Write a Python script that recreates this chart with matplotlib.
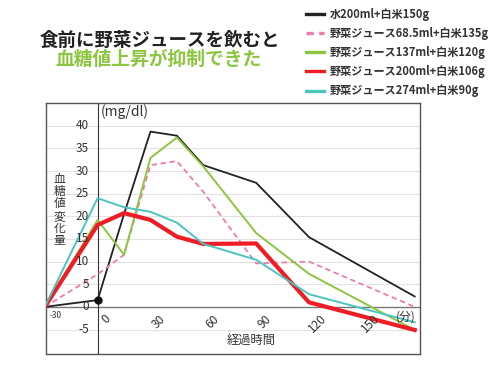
import matplotlib
matplotlib.use('Agg')
import matplotlib.pyplot as plt
from matplotlib.lines import Line2D

plt.rcParams['font.family'] = ['Noto Sans CJK JP', 'DejaVu Sans']

# time points (min) and blood glucose change (mg/dl)
minutes = [-30, 0, 15, 30, 45, 60, 90, 120, 180]
water = [0, 1.5, 20.5, 38.7, 37.8, 31.3, 27.4, 15.4, 2.3]
juice_68 = [0, 7.2, 11.5, 31.3, 32.2, 25.4, 9.6, 10.0, 0]
juice_137 = [0, 19.2, 11.5, 32.9, 37.4, 31.0, 16.3, 7.3, -5.1]
juice_200 = [0, 18.1, 20.7, 19.2, 15.5, 13.9, 14.0, 1.0, -5.1]
juice_274 = [0, 24.0, 22.0, 21.0, 18.6, 13.9, 10.4, 2.8, -3.4]

labels = ['水200ml+白米150g', '野菜ジュース68.5ml+白米135g', '野菜ジュース137ml+白米120g',
          '野菜ジュース200ml+白米106g', '野菜ジュース274ml+白米90g']
x_ticks = [0, 30, 60, 90, 120, 150]
y_ticks = [-5, 0, 5, 10, 15, 20, 25, 30, 35, 40]

fig = plt.figure(figsize=(5, 3.79), dpi=100)
ax = fig.add_axes((0.092, 0.066, 0.748, 0.662))

# grid
for v in y_ticks:
    if v != 0:
        ax.axhline(v, color='#e2e2e2', lw=0.8, zorder=0)
ax.axhline(0, color='#777777', lw=1.0, zorder=1)
ax.axvline(0, color='#333333', lw=0.8, zorder=1)

series = [
    (water, '#222222', '-', 1.3),
    (juice_68, '#f07ab0', (0, (3, 2)), 1.3),
    (juice_137, '#8cc63f', '-', 1.4),
    (juice_200, '#ee1c24', '-', 3.0),
    (juice_274, '#4cc4c0', '-', 1.4),
]
handles = []
for vals, c, ls, lw in series:
    ax.plot(minutes, vals, color=c, linestyle=ls, lw=lw, zorder=3)
    handles.append(Line2D([], [], color=c, linestyle='-' if ls == '-' else (0, (2.2, 1.6)),
                          lw=2.4))
ax.plot([0], [water[1]], 'o', color='#111111', ms=5, zorder=4)

ax.set_xlim(-29.3, 183)
ax.set_ylim(-10.4, 45)
ax.set_xticks([])
ax.set_yticks([])
for s in ax.spines.values():
    s.set_color('#555555')
    s.set_linewidth(1.0)

# tick labels
for v in y_ticks:
    ax.text(-5, v, str(v), ha='right', va='center', fontsize=8.5, color='#333333')
for v in x_ticks:
    ax.text(v + 5, -1.2, str(v), ha='center', va='top', rotation=45,
            fontsize=8.5, color='#333333')
ax.text(-27, -0.8, '-30', ha='left', va='top', fontsize=6, color='#333333')
ax.text(175, -0.8, '(分)', ha='center', va='top', fontsize=8.5, color='#333333')
ax.text(2, 43.2, '(mg/dl)', ha='left', va='center', fontsize=10, color='#333333')
ax.text(-21.5, 21.4, '\n'.join('血糖値変化量'), ha='center', va='center',
        fontsize=8.5, color='#333333', linespacing=0.92)
ax.text(87, -7.5, '経過時間', ha='center', va='center', fontsize=8.8, color='#333333')

# titles
fig.text(0.32, 0.894, '食前に野菜ジュースを飲むと', ha='center', va='center',
         fontsize=13.3, fontweight='bold', color='#222222')
fig.text(0.318, 0.842, '血糖値上昇が抑制できた', ha='center', va='center',
         fontsize=13.5, fontweight='bold', color='#8cc63f')

# legend
fig.legend(handles, labels, loc='upper left', bbox_to_anchor=(0.612, 0.979),
           frameon=False, handlelength=1.6, labelspacing=0.55, handletextpad=0.5,
           borderaxespad=0, borderpad=0, labelcolor='#333333',
           prop={'weight': 'bold', 'size': 8})

fig.savefig('out.png', dpi=100)
